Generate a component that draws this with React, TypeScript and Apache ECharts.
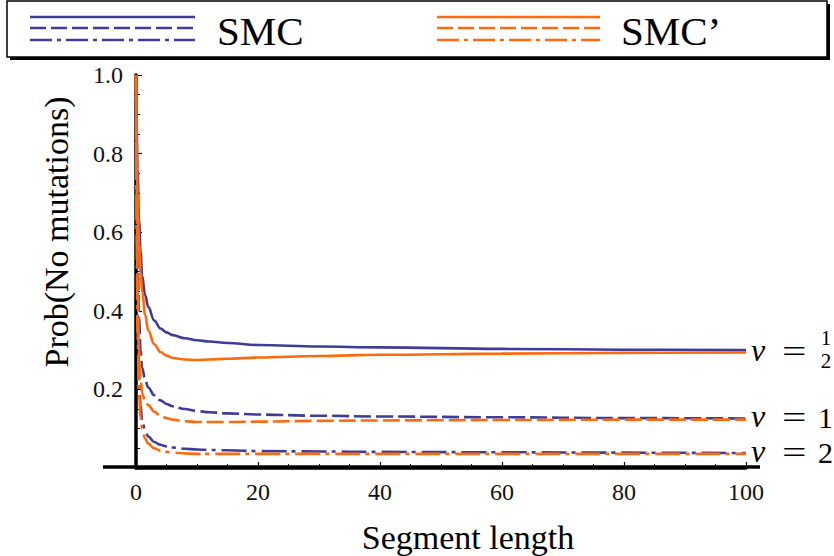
import React, { useEffect, useRef } from "react";
import * as echarts from "echarts";

// Segment length grid (x) shared by all series
const X = [0, 0.1, 0.25, 0.5, 0.75, 1, 1.5, 2, 3, 4, 5, 6, 8, 10, 12, 15, 20, 30, 40, 60, 80, 100];

// SMC (blue)
const smcHalf = [1.0, 0.88, 0.76, 0.63, 0.55, 0.49, 0.44, 0.41, 0.375, 0.355, 0.345, 0.338, 0.33, 0.325, 0.322, 0.318, 0.313, 0.309, 0.307, 0.303, 0.301, 0.3];
const smcOne = [1.0, 0.78, 0.56, 0.38, 0.3, 0.255, 0.225, 0.205, 0.185, 0.172, 0.163, 0.157, 0.15, 0.145, 0.142, 0.139, 0.136, 0.133, 0.131, 0.129, 0.127, 0.126];
const smcTwo = [1.0, 0.66, 0.4, 0.23, 0.16, 0.12, 0.095, 0.08, 0.066, 0.059, 0.055, 0.052, 0.049, 0.047, 0.046, 0.045, 0.043, 0.042, 0.041, 0.04, 0.039, 0.038];

// SMC' (orange)
const smcpHalf = [1.0, 0.84, 0.7, 0.57, 0.5, 0.45, 0.39, 0.35, 0.315, 0.295, 0.286, 0.28, 0.276, 0.275, 0.276, 0.278, 0.281, 0.285, 0.288, 0.291, 0.293, 0.294];
const smcpOne = [1.0, 0.72, 0.48, 0.3, 0.23, 0.19, 0.17, 0.16, 0.143, 0.133, 0.127, 0.123, 0.119, 0.117, 0.117, 0.117, 0.118, 0.12, 0.121, 0.122, 0.123, 0.123];
const smcpTwo = [1.0, 0.6, 0.34, 0.19, 0.13, 0.1, 0.075, 0.062, 0.05, 0.044, 0.041, 0.039, 0.037, 0.036, 0.036, 0.036, 0.036, 0.036, 0.036, 0.036, 0.036, 0.036];

const xTicks = [0, 20, 40, 60, 80, 100];
const yTicks = [0.2, 0.4, 0.6, 0.8, 1.0];

const BLUE = "#3f3c98";
const ORANGE = "#ff6a0e";
const FONT = "'Liberation Serif', 'DejaVu Serif', serif";
const DASH = [17, 5];
const DASHDOT = [25, 5, 4, 6];

function pairs(ys: number[]) {
  return X.map((x, i) => [x, ys[i]]);
}

export default function App() {
  const ref = useRef<HTMLDivElement>(null);
  useEffect(() => {
    document.body.style.margin = "0";
    const chart = echarts.init(ref.current!, undefined, { renderer: "svg" });
    const mk = (name: string, ys: number[], color: string, type: any) => ({
      name,
      type: "line",
      data: pairs(ys),
      showSymbol: false,
      smooth: 0.4,
      smoothMonotone: "x",
      lineStyle: { color, width: 2.6, type },
      z: 3,
    });
    const legendLines = (x0: number, x1: number, color: string) => [
      { type: "line", shape: { x1: x0, y1: 17, x2: x1, y2: 17 }, style: { stroke: color, lineWidth: 2.6 } },
      { type: "line", shape: { x1: x0, y1: 28, x2: x1, y2: 28 }, style: { stroke: color, lineWidth: 2.6, lineDash: [16, 5] } },
      { type: "line", shape: { x1: x0, y1: 40, x2: x1, y2: 40 }, style: { stroke: color, lineWidth: 2.6, lineDash: [22, 5, 4, 5] } },
    ];
    const txt = (x: number, y: number, text: string, fontSize: number, extra: any = {}, scaleX = 1) => ({
      type: "text",
      x,
      y,
      scaleX,
      z: 5,
      style: { text, fontFamily: FONT, fontSize, fill: "#000", textVerticalAlign: "middle", ...extra },
    });
    chart.setOption({
      animation: false,
      grid: { left: 136, right: 88, top: 75, bottom: 88 },
      xAxis: {
        type: "value",
        min: 0,
        max: 100,
        interval: 20,
        axisLine: { show: true, onZero: false, lineStyle: { color: "#000", width: 3.5 } },
        axisTick: { show: true, inside: true, length: 6, lineStyle: { color: "#000", width: 1.2 } },
        minorTick: { show: true, splitNumber: 4, length: 4, lineStyle: { color: "#000", width: 1 } },
        splitLine: { show: false },
        axisLabel: {
          color: "#111",
          fontFamily: FONT,
          fontSize: 24,
          margin: 12,
          formatter: (v: number) => (xTicks.includes(v) ? String(v) : ""),
        },
      },
      yAxis: {
        type: "value",
        min: 0,
        max: 1,
        interval: 0.2,
        axisLine: { show: true, onZero: false, lineStyle: { color: "#000", width: 3.5 } },
        axisTick: { show: true, inside: true, length: 6, lineStyle: { color: "#000", width: 1.2 } },
        minorTick: { show: true, splitNumber: 4, length: 4, lineStyle: { color: "#000", width: 1 } },
        splitLine: { show: false },
        axisLabel: {
          color: "#111",
          fontFamily: FONT,
          fontSize: 24,
          margin: 13,
          formatter: (v: number) => {
            const t = yTicks.find((k) => Math.abs(k - v) < 1e-9);
            return t === undefined ? "" : t.toFixed(1);
          },
        },
      },
      series: [
        mk("SMC ν=1/2", smcHalf, BLUE, "solid"),
        mk("SMC ν=1", smcOne, BLUE, DASH),
        mk("SMC ν=2", smcTwo, BLUE, DASHDOT),
        mk("SMC' ν=1/2", smcpHalf, ORANGE, "solid"),
        mk("SMC' ν=1", smcpOne, ORANGE, DASH),
        mk("SMC' ν=2", smcpTwo, ORANGE, DASHDOT),
      ],
      graphic: [
        // axis extension
        { type: "line", shape: { x1: 103, y1: 467, x2: 760, y2: 467 }, style: { stroke: "#000", lineWidth: 3.5 }, z: 10 },
        // legend box
        { type: "rect", shape: { x: 10, y: 4, width: 820, height: 56 }, style: { fill: "#000" }, z: 1 },
        { type: "rect", shape: { x: 7, y: 1, width: 820, height: 56 }, style: { fill: "#fff", stroke: "#000", lineWidth: 1.5 }, z: 2 },
        ...legendLines(30, 195, BLUE).map((g) => ({ ...g, z: 3 })),
        ...legendLines(437, 600, ORANGE).map((g) => ({ ...g, z: 3 })),
        txt(217, 31, "SMC", 41),
        txt(621, 31, "SMC’", 41),
        // axis titles
        {
          type: "text",
          x: 56,
          y: 232,
          rotation: Math.PI / 2,
          z: 5,
          style: { text: "Prob(No mutations)", fontFamily: FONT, fontSize: 34, fill: "#000", textAlign: "center", textVerticalAlign: "middle" },
        },
        txt(468, 537, "Segment length", 34, { textAlign: "center" }),
        // curve labels
        txt(751, 350, "ν", 32, { fontStyle: "italic" }),
        txt(782, 351, "=", 31, {}, 1.4),
        txt(826, 338, "1", 21, { textAlign: "center" }),
        txt(826, 361, "2", 21, { textAlign: "center" }),
        txt(751, 416, "ν", 32, { fontStyle: "italic" }),
        txt(782, 417, "=", 31, {}, 1.4),
        txt(818, 417, "1", 30),
        txt(751, 451, "ν", 32, { fontStyle: "italic" }),
        txt(782, 452, "=", 31, {}, 1.4),
        txt(818, 452, "2", 30),
      ],
    });
    return () => chart.dispose();
  }, []);
  return <div ref={ref} style={{ width: 834, height: 556 }} />;
}
